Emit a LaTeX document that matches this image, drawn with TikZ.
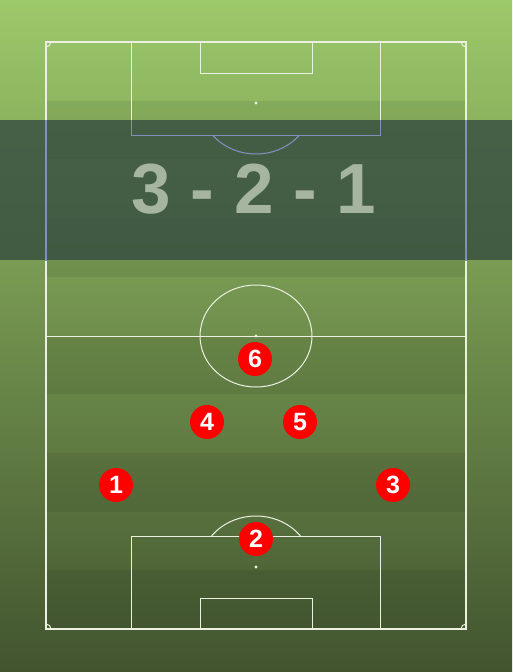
\documentclass[tikz,border=0pt]{standalone}
\usepackage{fontspec}
\setmainfont{Liberation Sans}
\usepackage{tikz}

\definecolor{grasstop}{RGB}{156,201,106}
\definecolor{grassmid}{RGB}{112,146,78}
\definecolor{grassbottom}{RGB}{66,84,47}
\definecolor{bannergreen}{RGB}{52,76,64}
\definecolor{bannerline}{RGB}{127,143,192}
\definecolor{bannertext}{RGB}{166,181,160}
\definecolor{pitchline}{RGB}{236,240,226}

% all markings of the pitch, in one colour
\newcommand{\pitchmarkings}[1]{%
  \draw[pitch, draw=#1, line width=1.3pt] (46,42) rectangle (466,629);
  \draw[pitch, draw=#1] (46,336) -- (466,336);
  \draw[pitch, draw=#1] (256,336) ellipse [x radius=56pt, y radius=51pt];
  \draw[pitch, draw=#1] (131,42) rectangle (380,135);
  \draw[pitch, draw=#1] (200,42) rectangle (312,73);
  \draw[pitch, draw=#1] (131,629) rectangle (380,536);
  \draw[pitch, draw=#1] (200,629) rectangle (312,598);
  \foreach \sy in {103,336,567}{
    \fill[#1] (256,\sy) circle (1.6pt);
  }
  \begin{scope}
    \clip (0,135) rectangle (512,536);
    \draw[pitch, draw=#1] (256,103) ellipse [x radius=56pt, y radius=51pt];
    \draw[pitch, draw=#1] (256,567) ellipse [x radius=56pt, y radius=51pt];
  \end{scope}
  \begin{scope}
    \clip (46,42) rectangle (466,629);
    \foreach \cx/\cy in {46/42, 466/42, 46/629, 466/629}{
      \draw[pitch, draw=#1] (\cx,\cy) circle (5pt);
    }
  \end{scope}
}

\begin{document}
\begin{tikzpicture}[x=1pt, y=-1pt,
    pitch/.style={draw=pitchline, line width=1pt},
    formation/.style={text=bannertext, inner sep=0pt, font=\bfseries\fontsize{71}{71}\selectfont},
    player/.style={circle, fill=red, text=white, minimum size=34pt, inner sep=0pt,
        font=\bfseries\fontsize{25}{25}\selectfont}]
    \useasboundingbox (0,0) rectangle (512,672);

    \shade[top color=grasstop, middle color=grassmid, bottom color=grassbottom]
        (0,0) rectangle (512,672);

    % darker stripes
    \foreach \band in {1,3,5,7,9}{
        \fill[black, opacity=0.07] (46,{42+\band*58.7}) rectangle (466,{42+(\band+1)*58.7});
    }

    \pitchmarkings{pitchline}

    % banner with the formation
    \fill[bannergreen, opacity=0.8] (0,120) rectangle (512,260);
    \begin{scope}
        \clip (0,120) rectangle (512,260);
        \pitchmarkings{bannerline}
    \end{scope}
    \node[formation] (shape) at (254,189.5) {3 - 2 - 1};

    % players
    \foreach \num/\px/\py in {1/116/485, 2/256/539, 3/393/485, 4/207/422, 5/300/422, 6/255/359}{
        \node[player] (p\num) at (\px,\py) {\num};
    }
\end{tikzpicture}
\end{document}
